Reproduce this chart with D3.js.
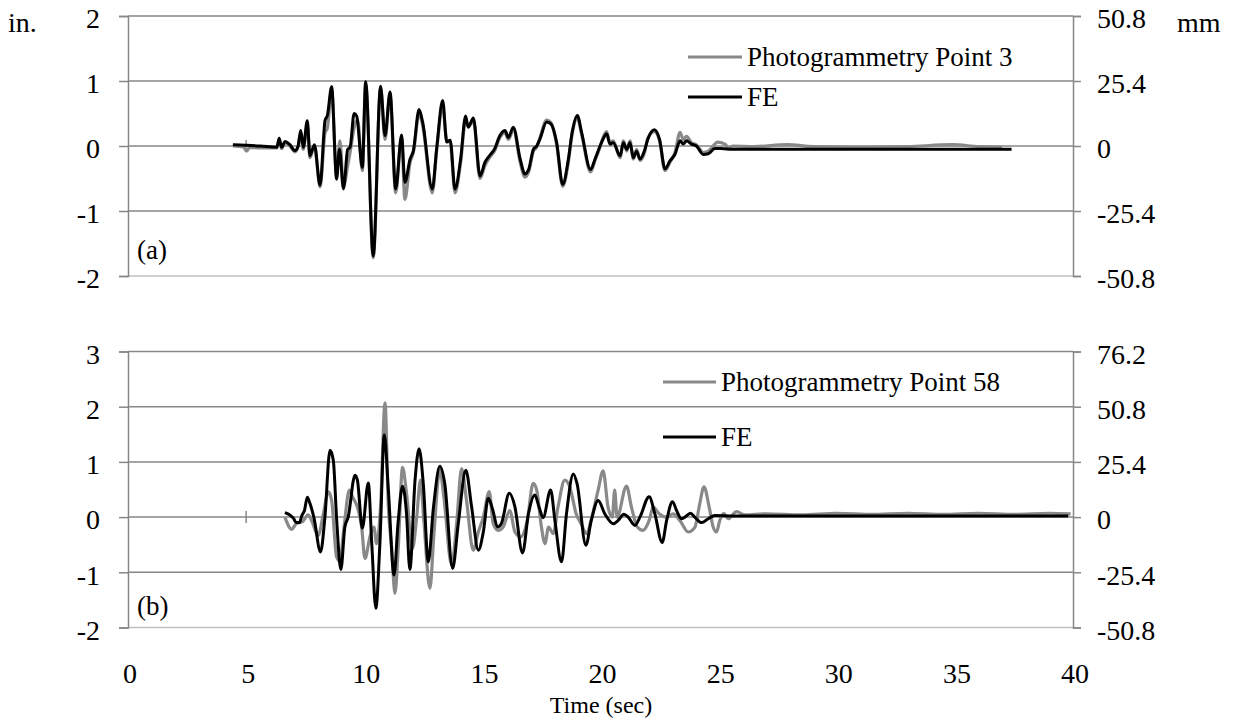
<!DOCTYPE html>
<html><head><meta charset="utf-8">
<script src="https://cdn.jsdelivr.net/npm/d3@7"></script>
<style>
html,body{margin:0;padding:0;background:#fff;}
svg{display:block;}
svg text{font-family:"Liberation Serif","Times New Roman",serif !important;fill:#000;}
</style></head>
<body>
<svg id="c" width="1239" height="727"></svg>
<script>
// ---------- DATA ----------
const xTicks = [0, 5, 10, 15, 20, 25, 30, 35, 40];
const topLeftTicks = [-2, -1, 0, 1, 2];
const topLeftLabels = ["-2", "-1", "0", "1", "2"];
const topRightTicks = ["-50.8", "-25.4", "0", "25.4", "50.8"];
const botLeftTicks = [-2, -1, 0, 1, 2, 3];
const botLeftLabels = ["-2", "-1", "0", "1", "2", "3"];
const botRightTicks = ["-50.8", "-25.4", "0", "25.4", "50.8", "76.2"];
const seriesNames = ["Photogrammetry Point 3", "FE", "Photogrammetry Point 58", "FE"];

// Panel (a): FE  [time (s), displacement (in.)]
const feA = [[4.44,0.02],[5.0,0.01],[5.6,0.0],[6.3,-0.02],[6.4,0.12],[6.5,-0.02],[6.65,0.07],[6.85,0.02],[7.07,-0.07],[7.2,0.0],[7.31,0.24],[7.42,-0.02],[7.59,0.39],[7.70,-0.15],[7.89,0.02],[8.13,-0.60],[8.34,0.39],[8.44,0.47],[8.62,0.91],[8.83,-0.51],[8.95,-0.05],[9.12,-0.66],[9.3,-0.05],[9.4,-0.02],[9.57,0.50],[9.68,0.46],[9.92,-0.33],[10.06,0.99],[10.38,-1.69],[10.69,0.92],[10.88,0.16],[11.09,0.83],[11.33,-0.66],[11.58,0.17],[11.72,-0.56],[11.94,-0.2],[12.08,-0.07],[12.32,0.56],[12.47,0.37],[12.88,-0.66],[13.07,-0.02],[13.32,0.70],[13.49,0.06],[13.64,0.09],[13.84,-0.66],[14.08,-0.2],[14.29,0.46],[14.4,0.29],[14.62,0.43],[14.90,-0.46],[15.11,-0.25],[15.3,-0.15],[15.55,-0.02],[15.7,0.13],[15.96,0.24],[16.1,0.13],[16.31,0.29],[16.6,-0.2],[16.8,-0.43],[16.96,-0.36],[17.16,-0.05],[17.3,0.0],[17.44,0.11],[17.72,0.37],[17.9,0.34],[18.14,0.06],[18.40,-0.59],[18.64,-0.2],[18.8,0.21],[19.02,0.47],[19.2,0.21],[19.58,-0.36],[19.77,-0.2],[19.98,0.0],[20.1,0.1],[20.26,0.19],[20.4,0.03],[20.54,0.05],[20.83,-0.15],[20.97,0.05],[21.11,-0.05],[21.25,0.05],[21.39,-0.18],[21.53,-0.08],[21.67,-0.2],[21.88,-0.05],[22.0,0.1],[22.28,0.25],[22.5,0.1],[22.73,-0.35],[22.94,-0.23],[23.15,-0.13],[23.37,0.08],[23.5,0.03],[23.64,0.08],[23.85,0.03],[24.06,0.0],[24.35,-0.13],[24.56,-0.12],[24.84,-0.04],[25.1,-0.04],[25.6,-0.05],[26.5,-0.05],[28,-0.05],[30,-0.05],[32,-0.05],[34,-0.05],[36,-0.05],[37.4,-0.05]];

// Panel (a): Photogrammetry Point 3
const photoA = [[4.44,0.0],[4.9,-0.02],[5.02,-0.08],[5.15,-0.02],[5.6,-0.03],[6.3,-0.03],[6.4,0.08],[6.5,-0.04],[6.65,0.05],[6.85,0.0],[7.07,-0.09],[7.2,-0.01],[7.31,0.2],[7.42,-0.05],[7.59,0.33],[7.70,-0.18],[7.89,0.0],[8.13,-0.63],[8.34,0.2],[8.44,0.28],[8.62,0.85],[8.83,-0.45],[8.97,0.08],[9.12,-0.62],[9.3,-0.3],[9.4,-0.1],[9.62,0.35],[9.72,0.4],[9.92,-0.38],[10.06,0.95],[10.38,-1.72],[10.69,0.88],[10.88,0.1],[11.09,0.78],[11.33,-0.72],[11.58,0.12],[11.72,-0.82],[11.94,-0.25],[12.08,-0.1],[12.32,0.5],[12.47,0.32],[12.88,-0.72],[13.07,-0.05],[13.32,0.6],[13.49,0.1],[13.64,0.05],[13.84,-0.72],[14.08,-0.25],[14.29,0.4],[14.4,0.3],[14.62,0.38],[14.90,-0.5],[15.11,-0.3],[15.3,-0.18],[15.55,-0.05],[15.7,0.1],[15.96,0.2],[16.1,0.1],[16.31,0.25],[16.6,-0.25],[16.8,-0.48],[16.96,-0.4],[17.16,-0.08],[17.3,-0.02],[17.44,0.13],[17.72,0.4],[17.9,0.36],[18.14,0.03],[18.40,-0.62],[18.64,-0.25],[18.8,0.18],[19.02,0.43],[19.2,0.18],[19.58,-0.4],[19.77,-0.22],[19.98,-0.02],[20.1,0.12],[20.26,0.22],[20.4,0.05],[20.54,0.08],[20.83,-0.18],[20.97,0.08],[21.11,-0.08],[21.25,0.08],[21.39,-0.2],[21.53,-0.05],[21.67,-0.22],[21.88,-0.08],[22.0,0.12],[22.28,0.22],[22.5,0.08],[22.73,-0.38],[22.94,-0.25],[23.15,-0.1],[23.37,0.21],[23.5,0.1],[23.64,0.15],[23.85,0.05],[24.06,0.02],[24.35,-0.1],[24.56,-0.08],[24.97,0.06],[25.3,0.02],[25.4,-0.05],[25.6,0.0],[26.5,-0.01],[27.9,0.02],[29,-0.01],[31,-0.02],[33,-0.01],[34.9,0.02],[36,-0.01],[37.0,-0.02]];

// Panel (b): FE
const feB = [[6.64,0.08],[7.0,-0.02],[7.12,-0.10],[7.26,-0.10],[7.36,0.03],[7.47,0.12],[7.59,0.36],[7.7,0.25],[7.87,-0.01],[8.15,-0.63],[8.33,-0.03],[8.55,1.21],[8.69,1.03],[8.83,-0.03],[9.01,-0.95],[9.18,-0.18],[9.32,0.0],[9.61,0.76],[9.71,0.67],[9.92,-0.2],[10.17,0.62],[10.32,-0.5],[10.49,-1.65],[10.66,-0.5],[10.85,1.49],[11.02,0.5],[11.26,-1.05],[11.43,-0.11],[11.62,0.56],[11.79,0.06],[11.93,-0.95],[12.15,0.67],[12.32,1.24],[12.5,0.6],[12.71,-0.81],[12.93,0.18],[13.2,0.92],[13.41,0.6],[13.74,-0.93],[13.98,-0.12],[14.3,0.85],[14.54,0.2],[14.83,-0.6],[15.04,-0.27],[15.25,0.34],[15.44,0.13],[15.64,-0.18],[15.8,-0.12],[16.14,0.43],[16.37,0.2],[16.7,-0.65],[16.95,0.06],[17.22,0.40],[17.4,0.18],[17.57,-0.01],[17.89,0.49],[18.07,-0.06],[18.35,-0.81],[18.56,0.06],[18.85,0.78],[19.01,0.6],[19.38,-0.51],[19.61,-0.06],[19.9,0.30],[20.18,0.06],[20.54,-0.12],[20.75,-0.06],[20.99,0.05],[21.17,0.0],[21.46,-0.15],[21.67,0.0],[22.06,0.37],[22.3,0.06],[22.61,-0.46],[22.8,-0.06],[23.05,0.28],[23.22,0.12],[23.43,-0.03],[23.57,0.0],[23.81,0.07],[23.99,0.0],[24.28,-0.10],[24.56,-0.03],[24.84,0.03],[25.6,0.02],[27,0.02],[30,0.02],[33,0.02],[36,0.02],[39.8,0.02]];

// Panel (b): Photogrammetry Point 58
const photoB = [[6.64,0.0],[6.93,-0.22],[7.12,-0.12],[7.4,-0.08],[7.62,0.04],[7.76,-0.05],[8.05,-0.33],[8.27,0.06],[8.48,0.46],[8.62,0.3],[8.83,-0.72],[8.97,-0.8],[9.14,-0.2],[9.37,0.49],[9.51,0.36],[9.71,0.18],[9.89,-0.18],[10.03,-0.75],[10.24,-0.36],[10.41,-0.18],[10.52,-0.48],[10.69,0.18],[10.88,2.07],[11.02,0.18],[11.16,-0.55],[11.30,-1.38],[11.44,-0.55],[11.62,0.90],[11.79,0.43],[12.04,-0.57],[12.21,-0.05],[12.38,0.67],[12.52,-0.05],[12.78,-1.29],[12.95,-0.3],[13.2,0.86],[13.37,0.36],[13.7,-0.87],[13.91,-0.12],[14.12,0.88],[14.33,0.3],[14.61,-0.6],[14.83,-0.27],[15.04,0.0],[15.29,0.46],[15.46,-0.12],[15.67,-0.24],[15.88,-0.18],[16.16,0.12],[16.38,-0.27],[16.62,-0.36],[16.9,-0.06],[17.15,0.61],[17.3,0.49],[17.5,-0.18],[17.65,-0.48],[17.8,-0.18],[18.0,-0.3],[18.2,0.18],[18.49,0.67],[18.7,0.55],[18.97,0.06],[19.18,-0.12],[19.42,-0.3],[19.6,-0.06],[19.9,0.49],[20.11,0.84],[20.32,0.18],[20.5,0.0],[20.6,0.49],[20.7,0.0],[21.1,0.56],[21.31,0.18],[21.56,-0.18],[21.8,-0.24],[22.06,-0.06],[22.23,0.18],[22.48,0.06],[22.8,0.0],[23.08,0.06],[23.36,-0.06],[23.71,-0.27],[24.0,-0.18],[24.2,0.24],[24.38,0.55],[24.6,0.18],[24.77,-0.18],[24.91,-0.27],[25.05,-0.06],[25.22,0.07],[25.4,-0.03],[25.76,0.1],[26.1,0.04],[27,0.06],[28.5,0.04],[30,0.07],[31.5,0.05],[33,0.07],[34.5,0.05],[36,0.07],[37.5,0.05],[39,0.07],[39.9,0.06]];

// ---------- DRAW ----------
const svg = d3.select("#c");
const FONT = "'Liberation Serif', 'Times New Roman', serif";
const GRID = "#878787", LIGHT = "#c0c0c0";
const x = d3.scaleLinear([0, 40], [128, 1073]);

const panels = [
  {y: d3.scaleLinear([-2, 2], [276, 16]), left: topLeftTicks, leftLab: topLeftLabels, right: topRightTicks,
   photo: photoA, fe: feA, name: seriesNames[0], tag: "(a)",
   leg: {x1: 688, x2: 742, y1: 57, y2: 97}},
  {y: d3.scaleLinear([-2, 3], [627.5, 351.5]), left: botLeftTicks, leftLab: botLeftLabels, right: botRightTicks,
   photo: photoB, fe: feB, name: seriesNames[2], tag: "(b)",
   leg: {x1: 663, x2: 716, y1: 382, y2: 437}}
];

panels.forEach(p => {
  const g = svg.append("g");
  const [y0] = p.y.domain();
  // gridlines
  g.selectAll("line.grid").data(p.left).join("line")
    .attr("x1", x(0)).attr("x2", x(40))
    .attr("y1", d => p.y(d)).attr("y2", d => p.y(d))
    .attr("stroke", d => d === y0 ? LIGHT : GRID).attr("stroke-width", 1.5);
  // x axis crossing at 0 (tick marks, visible only where no data covers them)
  g.selectAll("line.xt").data(xTicks.filter(d => d > 0 && d < 6)).join("line")
    .attr("x1", d => x(d)).attr("x2", d => x(d))
    .attr("y1", p.y(0) - 6).attr("y2", p.y(0) + 6)
    .attr("stroke", GRID).attr("stroke-width", 1.5);
  // left axis
  const la = d3.axisLeft(p.y).tickValues(p.left).tickSize(9)
    .tickFormat((d, i) => p.leftLab[i]).tickPadding(19);
  const lg = g.append("g").attr("transform", `translate(${x(0)},0)`).call(la);
  // right axis
  const ra = d3.axisRight(p.y).tickValues(p.left).tickSize(8)
    .tickFormat((d, i) => p.right[i]).tickPadding(16);
  const rg = g.append("g").attr("transform", `translate(${x(40)},0)`).call(ra);
  [lg, rg].forEach(a => {
    a.attr("font-family", null).attr("font-size", null);
    a.select(".domain").attr("stroke", GRID).attr("stroke-width", 1.5);
    a.selectAll(".tick line").attr("stroke", GRID).attr("stroke-width", 1.5);
    a.selectAll(".tick text").style("font-size", "28px").style("font-family", FONT)
      .attr("fill", "#000").attr("dy", "0.42em");
  });
  // series
  const line = d3.line().x(d => x(d[0])).y(d => p.y(d[1])).curve(d3.curveMonotoneX);
  g.append("path").datum(p.photo).attr("d", line).attr("fill", "none")
    .attr("stroke", "#898989").attr("stroke-width", 3.2).attr("stroke-linejoin", "round");
  g.append("path").datum(p.fe).attr("d", line).attr("fill", "none")
    .attr("stroke", "#000").attr("stroke-width", 3).attr("stroke-linejoin", "round");
  // legend
  g.append("line").attr("x1", p.leg.x1).attr("x2", p.leg.x2).attr("y1", p.leg.y1).attr("y2", p.leg.y1)
    .attr("stroke", "#898989").attr("stroke-width", 3.2);
  g.append("text").attr("x", p.leg.x2 + 5).attr("y", p.leg.y1).attr("dy", "0.35em")
    .style("font-size", "27px").style("font-family", FONT).text(p.name);
  g.append("line").attr("x1", p.leg.x1).attr("x2", p.leg.x2).attr("y1", p.leg.y2).attr("y2", p.leg.y2)
    .attr("stroke", "#000").attr("stroke-width", 3);
  g.append("text").attr("x", p.leg.x2 + 5).attr("y", p.leg.y2).attr("dy", "0.35em")
    .style("font-size", "27px").style("font-family", FONT).text(seriesNames[1]);
  // panel tag
  g.append("text").attr("x", 137).attr("y", p.y(-1.6)).attr("dy", "0.35em")
    .style("font-size", "27px").style("font-family", FONT).text(p.tag);
});

// x tick labels
svg.append("g").selectAll("text").data(xTicks).join("text")
  .attr("x", d => x(d) + 2).attr("y", 673).attr("dy", "0.35em")
  .attr("text-anchor", "middle").style("font-size", "28px").style("font-family", FONT).text(d => d);
svg.append("text").attr("x", 601).attr("y", 705).attr("dy", "0.35em")
  .attr("text-anchor", "middle").style("font-size", "24px").style("font-family", FONT).text("Time (sec)");
svg.append("text").attr("x", 8).attr("y", 22).attr("dy", "0.35em")
  .style("font-size", "28px").style("font-family", FONT).text("in.");
svg.append("text").attr("x", 1177).attr("y", 22).attr("dy", "0.35em")
  .style("font-size", "28px").style("font-family", FONT).text("mm");
</script>
</body></html>
